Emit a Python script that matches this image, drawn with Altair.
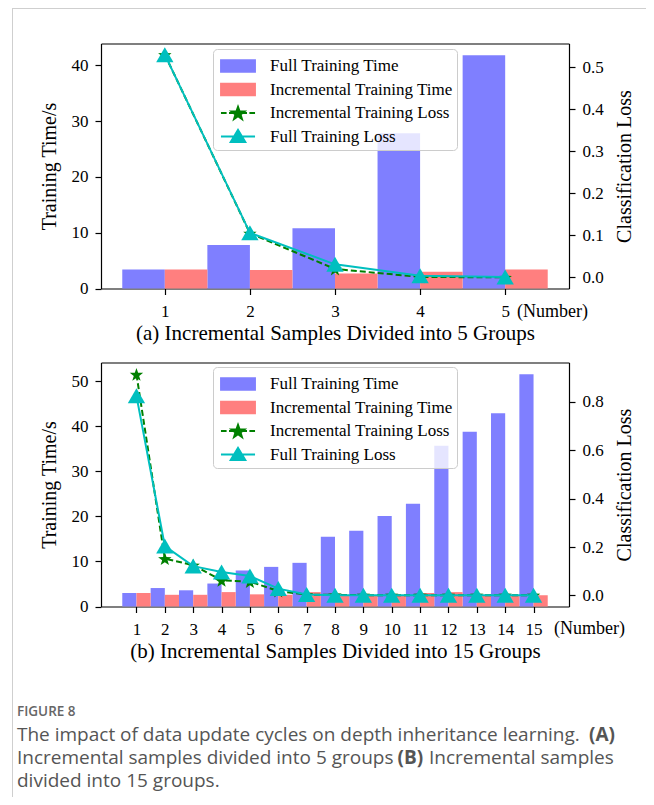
import math
import pandas as pd
import altair as alt

# ---------------- data ----------------
groups5 = [1, 2, 3, 4, 5]
full_time5 = [3.4, 7.8, 10.8, 27.8, 41.8]
inc_time5 = [3.4, 3.3, 2.7, 3.0, 3.4]
inc_loss5 = [0.53, 0.105, 0.02, 0.001, 0.0]
full_loss5 = [0.53, 0.106, 0.031, 0.004, 0.001]

groups15 = list(range(1, 16))
full_time15 = [3.0, 4.1, 3.6, 5.1, 8.0, 8.8, 9.7, 15.5, 16.8, 20.1, 22.8, 35.7, 38.8, 42.9, 51.6]
inc_time15 = [3.0, 2.6, 2.6, 3.2, 2.7, 2.6, 3.2, 2.6, 2.5, 2.5, 3.0, 3.2, 2.5, 2.5, 2.5]
inc_loss15 = [0.914, 0.152, 0.125, 0.062, 0.057, 0.018, 0.003, 0.002, 0.001, 0.001, 0.001, 0.001, 0.001, 0.001, 0.001]
full_loss15 = [0.825, 0.204, 0.121, 0.097, 0.080, 0.028, 0.004, 0.001, 0.001, 0.001, 0.001, 0.001, 0.001, 0.001, 0.001]

series_names = ["Full Training Time", "Incremental Training Time",
                "Incremental Training Loss", "Full Training Loss"]
series_colors = ["#7f7fff", "#ff7f7f", "#008000", "#00bfbf"]

left_ticks5 = [0, 10, 20, 30, 40]
right_ticks5 = [0.0, 0.1, 0.2, 0.3, 0.4, 0.5]
left_ticks15 = [0, 10, 20, 30, 40, 50]
right_ticks15 = [0.0, 0.2, 0.4, 0.6, 0.8]

subtitle5 = "(a) Incremental Samples Divided into 5 Groups"
subtitle15 = "(b) Incremental Samples Divided into 15 Groups"

SERIF = "Liberation Serif"
SANS = "Open Sans"

# whole-figure canvas (page coordinates minus the 8px body margin)
CW, CH = 638, 789
PX0, PX1 = 93, 561            # plot area left/right of both panels


# ---------------- symbol shapes (custom SVG paths) ----------------
def star_path(R, cy=0.0):
    pts = []
    for k in range(10):
        a = math.radians(-90 + 36 * k)
        r = R if k % 2 == 0 else R * 0.4
        pts.append((r * math.cos(a), cy + r * math.sin(a)))
    return "M" + "L".join(f"{x:.3f},{y:.3f}" for x, y in pts) + "Z"


STAR = star_path(1.0, 0.1)
L = 1.42
rect_path = f"M{-L},-0.48H{L}V0.48H{-L}Z"
dash_line = f"M{-L},0H-0.95M-0.75,0H-0.5M0.5,0H0.75M0.95,0H{L}"
star_sym = dash_line + star_path(0.58, 0.05)
tri_sym = f"M{-L},0H{L}" + "M0,-0.56L0.62,0.46L-0.62,0.46Z"
shape_paths = [rect_path, rect_path, star_sym, tri_sym]

one = pd.DataFrame({"k": [0]})


def text_mark(txt, x, y, size, font, color="black", weight="normal", align="left"):
    return alt.Chart(one).mark_text(
        text=txt, font=font, fontSize=size, color=color, fontWeight=weight,
        align=align, baseline="alphabetic"
    ).encode(x=alt.value(x), y=alt.value(y))


def panel(groups, full_t, inc_t, inc_l, full_l, xdom, ldom, rdom, lticks, rticks,
          subtitle, y_top, y_bot, legend_y, number_x, number_y, star_size):
    df = pd.DataFrame({"g": groups, "full_time": full_t, "inc_time": inc_t,
                       "inc_loss": inc_l, "full_loss": full_l})
    base = alt.Chart(df)
    xs = alt.Scale(domain=xdom, range=[PX0, PX1], nice=False, zero=False)
    xaxis = alt.Axis(values=groups, format="d", title=subtitle, titleFontSize=21,
                     orient="bottom", offset=y_bot - CH,
                     titleY=50.5, titleBaseline="alphabetic",
                     labelPadding=9)
    xaxis_top = alt.Axis(orient="top", offset=-y_top, labels=False, ticks=False, title=None)
    ls = alt.Scale(domain=ldom, range=[y_bot, y_top], nice=False, zero=True)
    laxis = alt.Axis(values=lticks, format="d", title="Training Time/s", orient="left",
                     offset=-PX0, titleAngle=270, titleX=-46, titleBaseline="alphabetic",
                     labelPadding=7)
    rs = alt.Scale(domain=rdom, range=[y_bot, y_top], nice=False, zero=False)
    raxis = alt.Axis(values=rticks, format=".1f", title="Classification Loss", orient="right",
                     offset=PX1 - CW, titleAngle=270, titleX=61, titleBaseline="alphabetic",
                     labelPadding=7)

    blue = base.transform_calculate(x0="datum.g - 0.5", x1="datum.g").mark_rect(
        color=series_colors[0]).encode(
        x=alt.X("x0:Q", scale=xs, axis=xaxis), x2="x1:Q",
        y=alt.Y("full_time:Q", scale=ls, axis=laxis), y2=alt.Y2Datum(0))
    red = base.transform_calculate(x0="datum.g", x1="datum.g + 0.5").mark_rect(
        color=series_colors[1]).encode(
        x=alt.X("x0:Q", scale=xs, axis=xaxis), x2="x1:Q",
        y=alt.Y("inc_time:Q", scale=ls, axis=laxis), y2=alt.Y2Datum(0))
    bars = alt.layer(blue, red)

    xl = alt.X("g:Q", scale=xs, axis=xaxis_top)
    inc_line = base.mark_line(color=series_colors[2], strokeWidth=2, strokeDash=[6, 3]).encode(
        x=xl, y=alt.Y("inc_loss:Q", scale=rs, axis=raxis))
    inc_pts = base.mark_point(shape=STAR, filled=True, size=star_size, opacity=1,
                              color=series_colors[2]).encode(
        x=xl, y=alt.Y("inc_loss:Q", scale=rs, axis=raxis))
    full_line = base.mark_line(color=series_colors[3], strokeWidth=2).encode(
        x=xl, y=alt.Y("full_loss:Q", scale=rs, axis=raxis))
    full_pts = base.mark_point(shape="triangle-up", filled=True, size=300, opacity=1,
                               color=series_colors[3]).encode(
        x=xl, y=alt.Y("full_loss:Q", scale=rs, axis=raxis))
    losses = alt.layer(inc_line, inc_pts, full_line, full_pts)

    legend = alt.Legend(orient="none", legendX=205, legendY=legend_y, title=None,
                        direction="vertical",
                        labelFont=SERIF, labelFontSize=17, labelColor="black", labelLimit=400,
                        symbolSize=576, symbolStrokeWidth=1.8, padding=4, symbolOffset=8,
                        labelOffset=19, rowPadding=0.5, fillColor="rgba(255,255,255,0.8)",
                        strokeColor="#cccccc", cornerRadius=4, zindex=2)
    leg_df = pd.DataFrame({"series": series_names})
    leg = alt.Chart(leg_df).transform_filter("false").mark_point(
        filled=True, strokeWidth=1.8, opacity=1).encode(
        fill=alt.Fill("series:N", scale=alt.Scale(domain=series_names, range=series_colors), legend=legend),
        stroke=alt.Stroke("series:N", scale=alt.Scale(domain=series_names, range=series_colors), legend=legend),
        shape=alt.Shape("series:N", scale=alt.Scale(domain=series_names, range=shape_paths), legend=legend),
    )

    number = text_mark("(Number)", number_x, number_y, 18, SERIF)
    return [bars, losses, leg, number]


top_layers = panel(groups5, full_time5, inc_time5, inc_loss5, full_loss5,
                   [0.25, 5.75], [0, 43.9], [-0.0265, 0.5565], left_ticks5, right_ticks5,
                   subtitle5, 35.5, 280.5, 41, 509, 309, 200)

bottom_layers = panel(groups15, full_time15, inc_time15, inc_loss15, full_loss15,
                      [-0.25, 16.25], [0, 54.2], [-0.046, 0.963], left_ticks15, right_ticks15,
                      subtitle15, 354.5, 598.5, 359, 546, 626, 200)

# card border
border_left = alt.Chart(one).mark_rule(color="#cfcfcf", strokeWidth=1).encode(
    x=alt.value(4.5), y=alt.value(0), y2=alt.value(CH))
border_top = alt.Chart(one).mark_rule(color="#cfcfcf", strokeWidth=1).encode(
    x=alt.value(4.5), x2=alt.value(CW), y=alt.value(0.5))

# caption
CAP = "#555555"
CS = 19
caption = [
    text_mark("FIGURE 8", 9, 708, 13.5, SANS, color="#666666", weight=600),
    text_mark("The impact of data update cycles on depth inheritance learning.", 9, 733, CS, SANS, color=CAP),
    text_mark("(A)", 581, 733, CS, SANS, color=CAP, weight="bold"),
    text_mark("Incremental samples divided into 5 groups", 9, 756, CS, SANS, color=CAP),
    text_mark("(B)", 389.5, 756, CS, SANS, color=CAP, weight="bold"),
    text_mark("Incremental samples", 421, 756, CS, SANS, color=CAP),
    text_mark("divided into 15 groups.", 9, 779, CS, SANS, color=CAP),
]

chart = alt.layer(
    *top_layers, *bottom_layers, border_left, border_top, *caption
).resolve_scale(
    x="independent", y="independent",
    fill="independent", stroke="independent", shape="independent"
).resolve_axis(
    x="independent", y="independent"
).resolve_legend(
    fill="independent", stroke="independent", shape="independent"
).properties(
    width=CW, height=CH, autosize=alt.AutoSizeParams(type="none"), padding=0
).configure_view(
    stroke="transparent"
).configure_axis(
    labelFont=SERIF, labelFontSize=17, labelColor="black",
    titleFont=SERIF, titleFontSize=20, titleFontWeight="normal", titleColor="black",
    tickColor="black", tickSize=6, tickWidth=1.2,
    domainColor="black", domainWidth=1.2, grid=False,
    labelFlush=False, labelOverlap=False, zindex=1
)

chart.save("out.html", embed_options={"renderer": "svg", "actions": False})
